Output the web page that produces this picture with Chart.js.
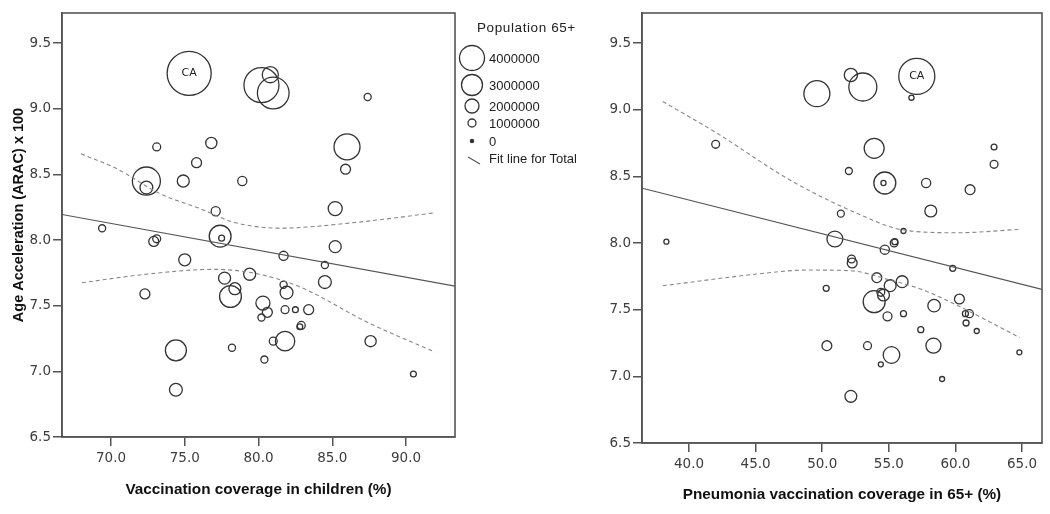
<!DOCTYPE html>
<html>
<head>
<meta charset="utf-8">
<script src="https://cdn.jsdelivr.net/npm/chart.js@4.4.1/dist/chart.umd.min.js"></script>
<style>
  body { margin: 0; background: #fff; }
  #wrap { position: relative; width: 1050px; height: 514px; background: #fff; overflow: hidden; }
  .panel { position: absolute; top: 0; }
  #legend { position: absolute; left: 440px; top: 0; }
</style>
</head>
<body>
<div id="wrap">
  <canvas id="left" class="panel" style="left:0" width="460" height="514"></canvas>
  <canvas id="right" class="panel" style="left:590px" width="460" height="514"></canvas>
  <svg id="legend" width="180" height="180" font-family="Liberation Sans, Arial, sans-serif" font-size="13" fill="#222"></svg>
</div>
<script>
// Panel 1: vaccination coverage in children vs ARAC
const childX = [75.3, 80.8, 80.2, 81.0, 87.4, 73.1, 76.8, 75.8, 86.0, 85.9, 72.4, 72.4, 74.9, 78.9, 77.1, 85.2,
  69.4, 72.9, 73.1, 77.4, 77.5, 85.2, 81.7, 75.0, 84.5, 72.3, 77.7, 79.4, 78.4, 78.1, 81.7, 81.9, 84.5,
  80.3, 80.6, 80.2, 81.8, 82.5, 83.4, 82.9, 82.8, 81.0, 81.8, 87.6, 74.4, 78.2, 80.4, 90.5, 74.4];
const childY = [9.27, 9.26, 9.18, 9.12, 9.09, 8.71, 8.74, 8.59, 8.71, 8.54, 8.45, 8.40, 8.45, 8.45, 8.22, 8.24,
  8.09, 7.99, 8.01, 8.03, 8.015, 7.95, 7.88, 7.85, 7.81, 7.59, 7.71, 7.74, 7.63, 7.57, 7.66, 7.60, 7.68,
  7.52, 7.45, 7.41, 7.47, 7.47, 7.47, 7.35, 7.34, 7.23, 7.23, 7.23, 7.16, 7.18, 7.09, 6.98, 6.86];
const childPop = [5.0, 1.6, 3.9, 3.5, 0.5, 0.6, 1.0, 0.85, 2.8, 0.85, 3.05, 1.2, 1.1, 0.75, 0.75, 1.35,
  0.5, 0.85, 0.6, 2.3, 0.35, 1.1, 0.75, 1.1, 0.5, 0.85, 1.1, 1.1, 1.1, 2.3, 0.5, 1.2, 1.2,
  1.35, 0.85, 0.5, 0.6, 0.35, 0.85, 0.6, 0.35, 0.6, 2.0, 1.0, 2.2, 0.5, 0.5, 0.35, 1.2];
const childFitX = [66.68, 93.32];
const childFitY = [8.195, 7.649];
const childUpX = [67.97, 70.4, 73.34, 76.06, 78.3, 81.47, 86.2, 91.97];
const childUpY = [8.657, 8.543, 8.353, 8.239, 8.137, 8.091, 8.13, 8.208];
const childLoX = [68.03, 72.3, 76.95, 79.9, 82.84, 87.36, 91.97];
const childLoY = [7.675, 7.739, 7.777, 7.744, 7.642, 7.375, 7.147];

// Panel 2: pneumonia vaccination coverage in 65+ vs ARAC
const pneuX = [57.1, 56.7, 49.6, 52.15, 53.05, 42.0, 53.9, 52.0, 54.7, 54.6, 57.8, 61.1, 62.9, 62.9, 58.15,
  51.4, 56.1, 38.3, 50.95, 55.4, 55.45, 54.7, 52.2, 52.25, 59.8, 50.3, 54.1, 56.0, 55.1, 54.4, 54.6, 53.9,
  54.9, 56.1, 58.4, 60.3, 60.75, 61.05, 60.8, 57.4, 61.6, 50.35, 53.4, 58.35, 55.2, 54.4, 64.8, 59.0, 52.15];
const pneuY = [9.25, 9.09, 9.12, 9.26, 9.17, 8.74, 8.71, 8.54, 8.45, 8.45, 8.45, 8.40, 8.72, 8.59, 8.24,
  8.22, 8.09, 8.01, 8.03, 8.0, 8.01, 7.95, 7.88, 7.85, 7.81, 7.66, 7.74, 7.71, 7.68, 7.63, 7.61, 7.56,
  7.45, 7.47, 7.53, 7.58, 7.47, 7.47, 7.40, 7.35, 7.34, 7.23, 7.23, 7.23, 7.16, 7.09, 7.18, 6.98, 6.85];
const pneuPop = [5.0, 0.4, 3.5, 1.6, 3.8, 0.8, 2.6, 0.67, 2.9, 0.4, 1.0, 1.1, 0.5, 0.8, 1.4,
  0.67, 0.38, 0.38, 2.0, 0.8, 0.53, 1.0, 0.8, 1.1, 0.53, 0.53, 1.1, 1.4, 1.4, 0.8, 1.4, 2.9,
  0.97, 0.53, 1.5, 1.1, 0.53, 0.82, 0.53, 0.53, 0.38, 1.1, 0.82, 1.87, 2.1, 0.38, 0.38, 0.38, 1.4];
const pneuFitX = [36.5, 66.5];
const pneuFitY = [8.411, 7.652];
const pneuUpX = [38.03, 42.09, 47.57, 52.6, 56.1, 60.1, 64.85];
const pneuUpY = [9.061, 8.824, 8.473, 8.223, 8.097, 8.077, 8.102];
const pneuLoX = [38.03, 45.09, 48.85, 52.1, 55.1, 57.6, 60.1, 64.82];
const pneuLoY = [7.679, 7.767, 7.797, 7.792, 7.722, 7.647, 7.534, 7.291];

const labelledState = 'CA'; // first point of each panel

const legendPops = [4000000, 3000000, 2000000, 1000000, 0];

const lineColor = '#555';
const tickFont = { family: 'DejaVu Sans', size: 13.5 };
const titleFont = { family: 'Liberation Sans', size: 15.3, weight: 'bold' };

function pts(xs, ys) {
  return xs.map((x, i) => ({ x: x, y: ys[i] }));
}

// bubble radius grows with the 65+ population (millions)
function bubbles(xs, ys, pops, k) {
  return xs.map((x, i) => ({ x: x, y: ys[i], r: k * (1.5 + 4.1 * pops[i]) }));
}

const boxPlugin = {
  id: 'box',
  afterDatasetsDraw(chart, args, opts) {
    const a = chart.chartArea;
    const ctx = chart.ctx;
    ctx.save();
    ctx.strokeStyle = lineColor;
    ctx.lineWidth = 1.6;
    ctx.strokeRect(a.left, a.top, a.right - a.left, a.bottom - a.top);
    // state label inside the first bubble
    const p = chart.data.datasets[0].data[0];
    ctx.fillStyle = '#222';
    ctx.font = '11px "DejaVu Sans"';
    ctx.textAlign = 'center';
    ctx.textBaseline = 'middle';
    ctx.fillText(labelledState, chart.scales.x.getPixelForValue(p.x), chart.scales.y.getPixelForValue(p.y));
    // y axis title
    if (opts.yTitle) {
      ctx.translate(19, 215);
      ctx.rotate(-Math.PI / 2);
      ctx.fillStyle = '#111';
      ctx.font = 'bold 14.5px "Liberation Sans"';
      ctx.fillText(opts.yTitle, 0, 0);
    }
    ctx.restore();
  }
};

function makeChart(id, cfg) {
  const axisGrid = { drawOnChartArea: false, drawTicks: true, color: lineColor, lineWidth: 1.5 };
  return new Chart(document.getElementById(id), {
    type: 'bubble',
    data: {
      datasets: [
        {
          data: bubbles(cfg.x, cfg.y, cfg.pop, cfg.k),
          backgroundColor: 'rgba(0,0,0,0)',
          borderColor: '#333',
          borderWidth: 1.3,
          order: 1
        },
        {
          type: 'line', data: pts(cfg.fitX, cfg.fitY),
          borderColor: '#555', borderWidth: 1.1, pointRadius: 0, order: 0
        },
        {
          type: 'line', data: pts(cfg.upX, cfg.upY),
          borderColor: '#888', borderWidth: 1.1, borderDash: [4, 3], pointRadius: 0,
          cubicInterpolationMode: 'monotone', order: 0
        },
        {
          type: 'line', data: pts(cfg.loX, cfg.loY),
          borderColor: '#888', borderWidth: 1.1, borderDash: [4, 3], pointRadius: 0,
          cubicInterpolationMode: 'monotone', order: 0
        }
      ]
    },
    options: {
      responsive: false,
      animation: false,
      layout: { autoPadding: false, padding: { top: 13, right: cfg.padRight, bottom: 0, left: 0 } },
      plugins: { legend: { display: false }, tooltip: { enabled: false }, box: { yTitle: cfg.yTitle } },
      scales: {
        x: {
          type: 'linear', min: cfg.xMin, max: cfg.xMax,
          grid: Object.assign({ tickLength: 9 }, axisGrid),
          border: { color: lineColor, width: 1.6 },
          ticks: {
            stepSize: 5, includeBounds: false, maxRotation: 0, padding: 4,
            color: '#3c3c3c', font: tickFont, callback: v => v.toFixed(1)
          },
          title: {
            display: true, text: cfg.xTitle, color: '#111', font: titleFont,
            padding: { top: 4, bottom: cfg.xTitlePad }
          },
          afterFit(s) { s.height = cfg.xHeight; }
        },
        y: {
          type: 'linear', min: 6.5, max: cfg.yMax,
          grid: Object.assign({ tickLength: 9 }, axisGrid),
          border: { color: lineColor, width: 1.6 },
          ticks: {
            stepSize: 0.5, includeBounds: false, padding: 2,
            color: '#3c3c3c', font: tickFont, callback: v => v.toFixed(1)
          },
          afterFit(s) { s.width = cfg.yWidth; }
        }
      }
    },
    plugins: [boxPlugin]
  });
}

makeChart('left', {
  x: childX, y: childY, pop: childPop, k: 1,
  fitX: childFitX, fitY: childFitY, upX: childUpX, upY: childUpY, loX: childLoX, loY: childLoY,
  xMin: 66.68, xMax: 93.32, yMax: 9.73, padRight: 5, yWidth: 62, xHeight: 77, xTitlePad: 15,
  xTitle: 'Vaccination coverage in children (%)', yTitle: 'Age Acceleration (ARAC) x 100'
});

makeChart('right', {
  x: pneuX, y: pneuY, pop: pneuPop, k: 0.82,
  fitX: pneuFitX, fitY: pneuFitY, upX: pneuUpX, upY: pneuUpY, loX: pneuLoX, loY: pneuLoY,
  xMin: 36.47, xMax: 66.5, yMax: 9.725, padRight: 8, yWidth: 52, xHeight: 71, xTitlePad: 10,
  xTitle: 'Pneumonia vaccination coverage in 65+ (%)'
});

// legend (offsets relative to the legend box)
const svg = document.getElementById('legend');
const ns = 'http://www.w3.org/2000/svg';
function el(tag, attrs, text) {
  const e = document.createElementNS(ns, tag);
  for (const k in attrs) e.setAttribute(k, attrs[k]);
  if (text !== undefined) e.textContent = text;
  svg.appendChild(e);
  return e;
}
el('text', { x: 37, y: 27, 'dominant-baseline': 'central', 'font-size': 13.5, 'letter-spacing': 0.6 }, 'Population 65+');
const legendR = [12.5, 10.5, 7, 4, 1.6];
const legendY = [58, 85, 106, 123, 141];
legendPops.forEach((p, i) => {
  el('circle', {
    cx: 32, cy: legendY[i], r: legendR[i],
    fill: p === 0 ? '#333' : 'none', stroke: '#333', 'stroke-width': 1.3
  });
  el('text', { x: 49, y: legendY[i], 'dominant-baseline': 'central' }, String(p));
});
el('line', { x1: 28, y1: 157, x2: 40, y2: 164, stroke: '#555', 'stroke-width': 1.1 });
el('text', { x: 49, y: 158, 'dominant-baseline': 'central' }, 'Fit line for Total');
</script>
</body>
</html>
